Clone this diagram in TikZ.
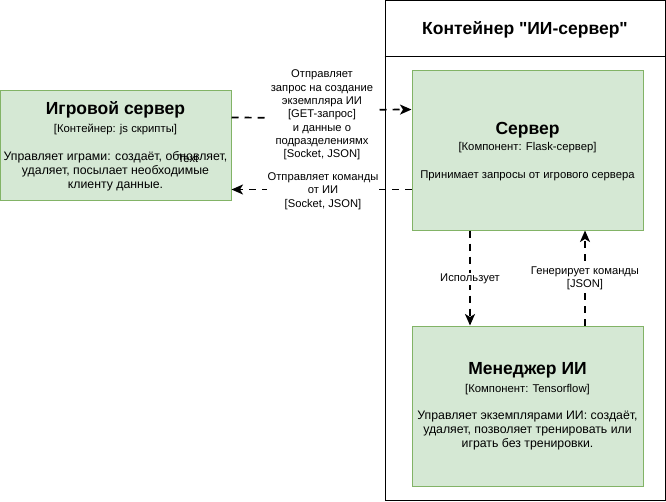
\documentclass[tikz,border=0pt]{standalone}
\usepackage{fontspec}
\setmainfont{Liberation Sans}
\usetikzlibrary{arrows.meta}
\definecolor{boxfill}{HTML}{D5E8D4}
\definecolor{boxline}{HTML}{82B366}
\tikzset{
  compbox/.style={draw=boxline, fill=boxfill, line width=1pt, minimum width=231pt, inner sep=0pt},
  ttl/.style={font=\fontsize{17.5}{20}\selectfont\bfseries, inner sep=0pt},
  sub/.style={font=\fontsize{11.3}{13}\selectfont, inner sep=0pt},
  desc/.style={font=\fontsize{12.3}{14}\selectfont, align=center, inner sep=0pt},
  elabel/.style={font=\fontsize{11.2}{13.3}\selectfont, align=center, fill=white, inner sep=1pt},
  conn/.style={draw=black, line width=1.7pt, dash pattern=on 7pt off 6pt, -{Stealth[length=11.5pt,width=10pt,inset=3pt]}},
}
\begin{document}
\begin{tikzpicture}[x=1pt,y=-1pt]
\useasboundingbox (0,0) rectangle (666,501);
% container
\node[draw=black, line width=1pt, minimum width=280pt, minimum height=500pt, inner sep=0pt] (cont) at (525,250.5) {};
\draw[line width=1pt] (cont.north west) ++(0,-56pt) coordinate (hl) -- (hl -| cont.east);
\node[ttl] (conttitle) at (525,30) {Контейнер \textquotedbl ИИ-сервер\textquotedbl};
% boxes
\node[compbox, minimum height=110pt] (game) at (115.5,145) {};
\node[compbox, minimum height=160pt] (server) at (527.5,150) {};
\node[compbox, minimum height=160pt] (manager) at (527.5,406) {};
% game text
\node[ttl] (gtitle) at (115.5,110) {Игровой сервер};
\node[sub] (gsub) at (115.5,129) {[Контейнер: js скрипты]};
\node[desc] (gdesc) at (115.5,171) {Управляет играми: создаёт, обновляет,\\удаляет, посылает необходимые\\клиенту данные.};
\node[font=\fontsize{11}{13}\selectfont, inner sep=0pt] (stray) at (188,159) {Text};
% server text
\node[ttl] (stitle) at (527.5,130) {Сервер};
\node[sub] (ssub) at (527.5,148) {[Компонент: Flask-сервер]};
\node[font=\fontsize{11.3}{13}\selectfont, inner sep=0pt] (sdesc) at (527.5,176) {Принимает запросы от игрового сервера};
% manager text
\node[ttl] (mtitle) at (527.5,370) {Менеджер ИИ};
\node[sub] (msub) at (527.5,390) {[Компонент: Tensorflow]};
\node[desc] (mdesc) at (527.5,431) {Управляет экземплярами ИИ: создаёт,\\удаляет, позволяет тренировать или\\играть без тренировки.};
% connectors
\draw[conn] ([yshift=-28pt]game.north east) -- (322,118) -- (322,110) -- ([yshift=-40pt]server.north west);
\node[elabel] (l1) at (322,115) {Отправляет\\запрос на создание\\экземпляра ИИ\\{}[GET-запрос]\\и данные о\\подразделениямх\\{}[Socket, JSON]};
\draw[conn] ([yshift=-120pt]server.north west) -- ([yshift=-100pt]game.north east);
\node[elabel] (l2) at (323,191) {Отправляет команды\\от ИИ\\{}[Socket, JSON]};
\draw[conn] ([xshift=-57.5pt]server.south) -- ([xshift=-57.5pt]manager.north);
\node[elabel] (l3) at (470,279) {Использует};
\draw[conn] ([xshift=57.5pt]manager.north) -- ([xshift=57.5pt]server.south);
\node[elabel] (l4) at (585,278) {Генерирует команды\\{}[JSON]};
\end{tikzpicture}
\end{document}
